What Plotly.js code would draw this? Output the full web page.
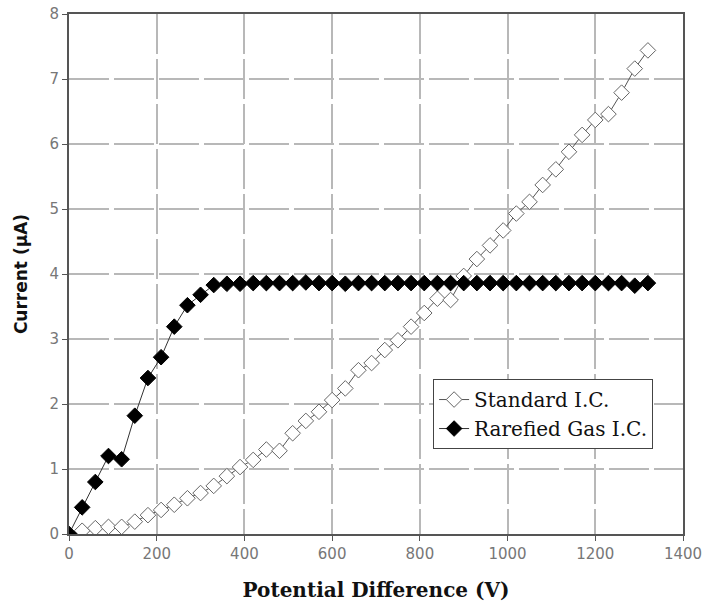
<!DOCTYPE html>
<html>
<head>
<meta charset="utf-8">
<script src="https://cdn.plot.ly/plotly-3.0.1.min.js"></script>
<style>html,body{margin:0;padding:0;background:#fff;}#chart{width:705px;height:605px;}</style>
</head>
<body>
<div id="chart"></div>
<script>
const voltage = [0,30,60,90,120,150,180,210,240,270,300,330,360,390,420,450,480,510,540,570,600,630,660,690,720,750,780,810,840,870,900,930,960,990,1020,1050,1080,1110,1140,1170,1200,1230,1260,1290,1320];
const standardIC = [0,0.05,0.09,0.11,0.11,0.19,0.29,0.37,0.45,0.55,0.63,0.74,0.89,1.03,1.14,1.30,1.28,1.55,1.74,1.88,2.06,2.24,2.52,2.63,2.83,2.98,3.19,3.40,3.62,3.60,3.97,4.23,4.44,4.67,4.93,5.11,5.37,5.61,5.88,6.14,6.37,6.46,6.79,7.16,7.44];
const rarefiedIC = [0,0.41,0.80,1.20,1.15,1.82,2.40,2.72,3.19,3.52,3.68,3.83,3.85,3.85,3.86,3.86,3.86,3.86,3.87,3.86,3.86,3.85,3.86,3.86,3.86,3.86,3.86,3.86,3.86,3.86,3.86,3.86,3.86,3.86,3.86,3.86,3.86,3.86,3.86,3.86,3.86,3.86,3.86,3.82,3.86];
const seriesNames = ["Standard I.C.", "Rarefied Gas I.C."];
const xTicks = [0,200,400,600,800,1000,1200,1400];
const yTicks = [0,1,2,3,4,5,6,7,8];

const traces = [
  {
    x: voltage, y: standardIC, name: seriesNames[0], type: "scatter", mode: "lines+markers",
    line: {color: "#555", width: 1},
    marker: {symbol: "diamond", size: 12, color: "#fff", line: {color: "#666", width: 1}}
  },
  {
    x: voltage, y: rarefiedIC, name: seriesNames[1], type: "scatter", mode: "lines+markers",
    line: {color: "#333", width: 1},
    marker: {symbol: "diamond", size: 12, color: "#000", line: {color: "#000", width: 1}}
  }
];

const layout = {
  width: 705, height: 605,
  margin: {l: 69, r: 22, t: 14, b: 71},
  paper_bgcolor: "#fff", plot_bgcolor: "#fff",
  showlegend: true,
  legend: {
    x: 0.593, y: 0.298, xanchor: "left", yanchor: "top",
    bgcolor: "#fff", bordercolor: "#444", borderwidth: 1,
    font: {family: "DejaVu Serif, serif", size: 20, color: "#111"},
    tracegroupgap: 0
  },
  xaxis: {
    range: [0, 1400], tickvals: xTicks, ticktext: xTicks.map(String),
    showgrid: true, gridcolor: "#b8b8b8", gridwidth: 2, griddash: "40px,5px",
    showline: true, linecolor: "#555", linewidth: 2, mirror: true,
    ticks: "outside", ticklen: 5, tickcolor: "#555", zeroline: false,
    tickfont: {family: "DejaVu Sans, sans-serif", size: 15, color: "#777"},
    title: {text: "Potential Difference (V)", standoff: 21,
      font: {family: "DejaVu Serif, serif", size: 20, color: "#111", weight: "bold"}}
  },
  yaxis: {
    range: [0, 8], tickvals: yTicks, ticktext: yTicks.map(String),
    showgrid: true, gridcolor: "#b8b8b8", gridwidth: 2, griddash: "40px,5px",
    showline: true, linecolor: "#555", linewidth: 2, mirror: true,
    ticks: "outside", ticklen: 5, tickcolor: "#555", zeroline: false,
    tickfont: {family: "DejaVu Sans, sans-serif", size: 15, color: "#777"},
    title: {text: "Current (μA)", standoff: 18,
      font: {family: "DejaVu Sans, sans-serif", size: 17, color: "#111", weight: "bold"}}
  }
};

Plotly.newPlot("chart", traces, layout, {displayModeBar: false, staticPlot: true});
</script>
</body>
</html>
